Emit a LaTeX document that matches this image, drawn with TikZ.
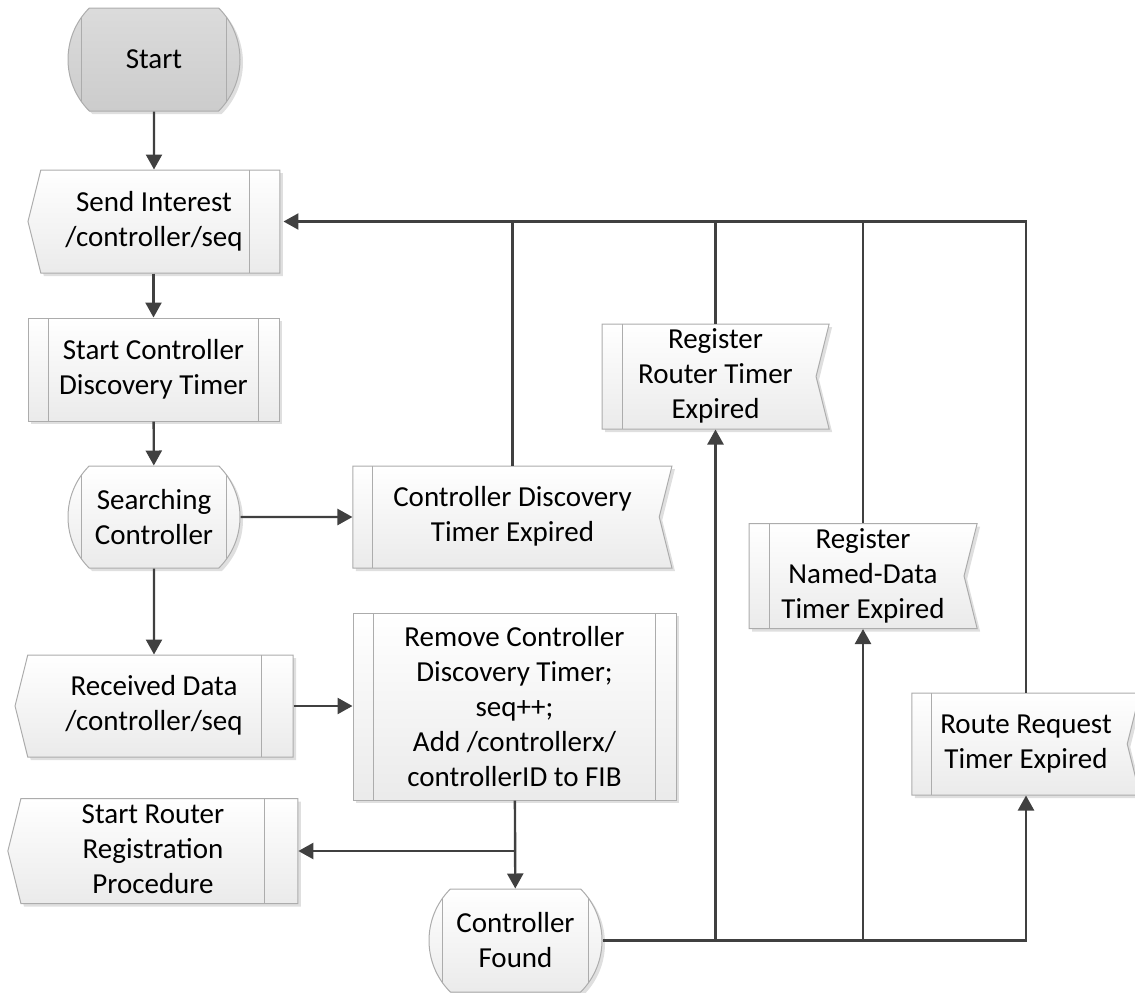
\documentclass[tikz,border=0pt]{standalone}
\usepackage{fontspec}
\setmainfont{Carlito}
\usetikzlibrary{shapes.symbols, shapes.misc, arrows.meta, shadows}

% text of a signal box, kept centred on the whole outline
\newcommand{\rpad}[1]{\begin{tabular}{@{}c@{}}#1\end{tabular}\hspace*{6.4pt}}
\newcommand{\lpad}[1]{\hspace*{6.4pt}\begin{tabular}{@{}c@{}}#1\end{tabular}}

\tikzset{
	sideline/.style = {draw = gray!65, line width = 0.5pt},
	box/.style = {draw = gray!65, line width = 0.5pt, align = center, inner sep = 0pt,
		font = \fontsize{14.5}{17.5}\selectfont, top color = white, bottom color = gray!16,
		drop shadow = {shadow xshift = 1.5pt, shadow yshift = -1.5pt, opacity = 0.25, fill = gray}},
	lline/.style = {path picture = {\draw[sideline] ([xshift = #1]path picture bounding box.north west) -- ([xshift = #1]path picture bounding box.south west);}},
	rline/.style = {path picture = {\draw[sideline] ([xshift = -#1]path picture bounding box.north east) -- ([xshift = -#1]path picture bounding box.south east);}},
	bline/.style = {path picture = {\draw[sideline] ([xshift = #1]path picture bounding box.north west) -- ([xshift = #1]path picture bounding box.south west);
		\draw[sideline] ([xshift = -#1]path picture bounding box.north east) -- ([xshift = -#1]path picture bounding box.south east);}},
	term/.style = {box, rounded rectangle, rounded rectangle arc length = 90, bline = 10.5pt},
	proc/.style = {box, rectangle, bline = 10.25pt},
	sendsig/.style = {box, signal, signal to = west, signal pointer angle = 152},
	timesig/.style = {box, signal, signal to = nowhere, signal from = east, signal pointer angle = 152, lline = 10pt},
	flow/.style = {draw = black!75, line width = 1.2pt, -{Triangle[length = 7.5pt, width = 8pt]}},
	wire/.style = {draw = black!75, line width = 1.2pt},
}

\begin{document}
\begin{tikzpicture}[x = 0.5pt, y = -0.5pt]
		\useasboundingbox (0, 0) rectangle (1135, 992);
		%%%%%%%%%%%%%
		\node[term, top color = gray!28, bottom color = gray!40, minimum width = 86pt, minimum height = 51.5pt] (start) at (154, 59.5) {Start};
		\node[sendsig, rline = 15pt, minimum width = 126pt, minimum height = 51.5pt] (send) at (160.4, 221.5) {\rpad{Send Interest\\/controller/seq}};
		\node[proc, minimum width = 125.5pt, minimum height = 51.5pt] (startctrl) at (153.5, 369.5) {Start Controller\\Discovery Timer};
		\node[term, minimum width = 86pt, minimum height = 51pt] (search) at (154, 517) {Searching\\Controller};
		\node[timesig, minimum width = 159.5pt, minimum height = 51pt] (cdte) at (506.1, 517) {\lpad{Controller Discovery\\Timer Expired}};
		\node[sendsig, rline = 16pt, minimum width = 139pt, minimum height = 51pt] (recv) at (160.4, 706) {\rpad{Received Data\\/controller/seq}};
		\node[proc, minimum width = 161.5pt, minimum height = 93.5pt] (remove) at (514.5, 706.5) {Remove Controller\\Discovery Timer;\\seq++;\\Add /controllerx/\\controllerID to FIB};
		\node[sendsig, rline = 16.5pt, minimum width = 145pt, minimum height = 52pt] (router) at (159.4, 851) {\rpad{Start Router\\Registration\\Procedure}};
		\node[term, minimum width = 86.5pt, minimum height = 51.5pt] (found) at (515.5, 940.5) {Controller\\Found};
		\node[timesig, minimum width = 113.5pt, minimum height = 51.5pt] (rrte) at (709.1, 376.5) {\lpad{Register\\Router Timer\\Expired}};
		\node[timesig, minimum width = 114pt, minimum height = 52pt] (rnde) at (856.6, 576) {\lpad{Register\\Named-Data\\Timer Expired}};
		\node[timesig, minimum width = 114pt, minimum height = 51pt] (rqte) at (1019.6, 744) {\lpad{Route Request\\Timer Expired}};
		%%%%%%%%%%%%%
		\draw[flow] (start) -- (start |- send.north);
		\draw[flow] (startctrl |- send.south) -- (startctrl);
		\draw[flow] (startctrl) -- (search);
		\draw[flow] (search) -- (cdte);
		\draw[flow] (search) -- (search |- recv.north);
		\draw[flow] (recv.east) -- (recv.east -| remove.west);
		\draw[flow] (remove) -- (found);
		\draw[flow] (remove.south |- router.east) -- (router.east);
		%%%%%%%%%%%%%
		\draw[wire] ([xshift = 3.2pt]cdte.north) -- ([xshift = 3.2pt]cdte.north |- send.east);
		\draw[wire] ([xshift = 3.2pt]rrte.north) -- ([xshift = 3.2pt]rrte.north |- send.east);
		\draw[wire] ([xshift = 3.2pt]rnde.north) -- ([xshift = 3.2pt]rnde.north |- send.east);
		\draw[flow] ([xshift = 3.2pt]rqte.north) |- ([xshift = 1.5pt]send.east);
		\draw[flow] (found.east) -| ([xshift = 3.2pt]rqte.south);
		\draw[flow] ([xshift = 3.2pt]rrte.south |- found.east) -- ([xshift = 3.2pt]rrte.south);
		\draw[flow] ([xshift = 3.2pt]rnde.south |- found.east) -- ([xshift = 3.2pt]rnde.south);
		%%%%%%%%%%%%%%
	\end{tikzpicture}
\end{document}
